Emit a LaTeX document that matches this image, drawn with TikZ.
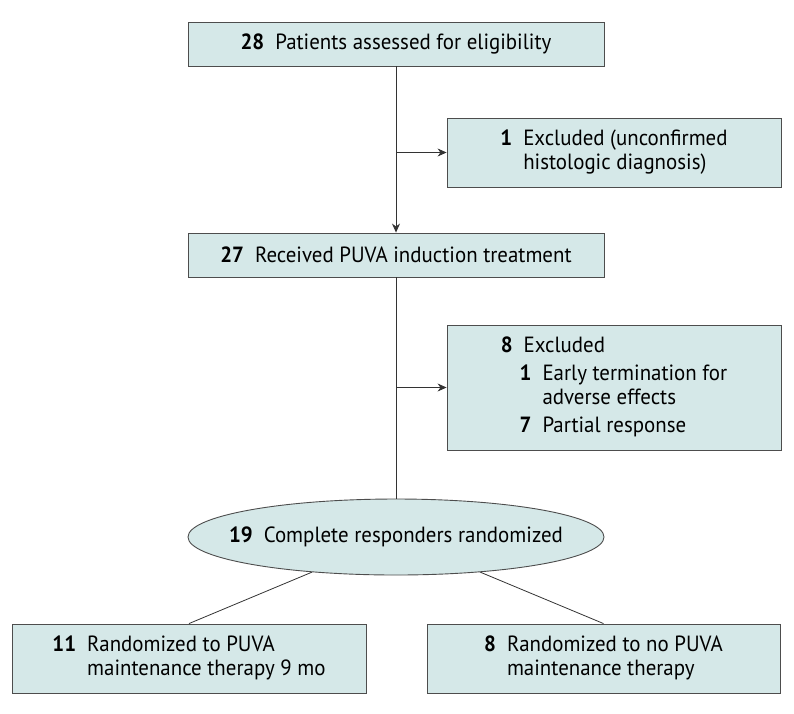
\documentclass[tikz,border=0pt]{standalone}
\usepackage{fontspec}
\setmainfont[FakeStretch=0.95]{PT Sans}
\usetikzlibrary{shapes.geometric,arrows.meta}
\definecolor{boxfill}{HTML}{D5E8E8}
\definecolor{boxline}{HTML}{4D4D4D}
\definecolor{linkline}{HTML}{333333}

\begin{document}
\begin{tikzpicture}[x=1pt,y=-1pt,
        flowbox/.style={draw=boxline,fill=boxfill,line width=0.9pt,inner sep=0pt,align=center,
            font=\fontsize{22}{24}\selectfont},
        link/.style={draw=linkline,line width=0.8pt},
        arr/.style={link,-{Stealth[length=9pt,width=8pt]}}]
        \useasboundingbox (0,0) rectangle (794,713);
        % Main column
        \node[flowbox,rectangle,minimum width=416pt,minimum height=44pt] (assessed) at (396,44)
            {\textbf{28}\enspace Patients assessed for eligibility};
        \node[flowbox,rectangle,minimum width=416pt,minimum height=44pt] (induction) at (396,255)
            {\textbf{27}\enspace Received PUVA induction treatment};
        \node[flowbox,ellipse,minimum width=416pt,minimum height=76pt] (randomized) at (396,537)
            {\makebox[250pt]{\textbf{19}\enspace Complete responders randomized}};
        % Exclusion boxes
        \node[flowbox,rectangle,minimum width=334pt,minimum height=69pt] (excl1) at (614,152.5)
            {\begin{tabular}{@{}r@{\enspace}l@{}}\textbf{1} & Excluded (unconfirmed\\ & histologic diagnosis)\end{tabular}};
        \node[flowbox,rectangle,minimum width=334pt,minimum height=125pt] (excl2) at (614,387.5)
            {\begin{tabular}{@{}r@{\enspace}l@{}}\textbf{8} & Excluded\\[4pt]
             & \hspace{-4pt}\textbf{1}\enspace Early termination for\\
             & \hspace{-4pt}\phantom{\textbf{1}}\enspace adverse effects\\[4pt]
             & \hspace{-4pt}\textbf{7}\enspace Partial response\end{tabular}};
        % Randomized arms
        \node[flowbox,rectangle,minimum width=354pt,minimum height=69pt] (puva) at (189,658.5)
            {\begin{tabular}{@{}r@{\enspace}l@{}}\textbf{11} & Randomized to PUVA\\ & maintenance therapy 9 mo\end{tabular}};
        \node[flowbox,rectangle,minimum width=353pt,minimum height=69pt] (nopuva) at (603.5,658.5)
            {\begin{tabular}{@{}r@{\enspace}l@{}}\textbf{8} & Randomized to no PUVA\\ & maintenance therapy\end{tabular}};
        % Connectors
        \draw[arr] (assessed) -- (induction);
        \draw[arr] (assessed.south |- excl1.west) -- (excl1);
        \draw[link] (induction) -- (randomized);
        \draw[arr] (induction.south |- excl2.west) -- (excl2);
        \draw[link] (randomized) -- (puva.north);
        \draw[link] (randomized) -- (nopuva.north);
    \end{tikzpicture}
\end{document}
